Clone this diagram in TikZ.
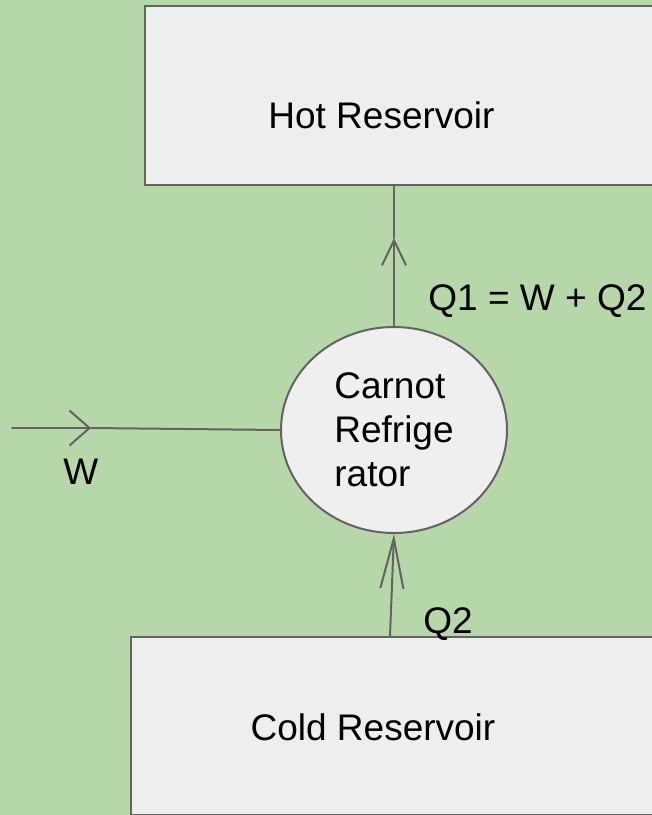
\documentclass[tikz,border=0pt]{standalone}
\usepackage{fontspec}
\setmainfont{Liberation Sans}
\usetikzlibrary{arrows.meta,shapes.geometric}
\definecolor{BackClr}{HTML}{B6D7A8}
\definecolor{BoxClr}{HTML}{EEEEEE}
\definecolor{LineClr}{HTML}{636363}

\begin{document}
\begin{tikzpicture}[x=.5pt,y=-.5pt,
  box/.style={draw=LineClr,fill=BoxClr,line width=1pt,inner sep=0pt},
  flow/.style={draw=LineClr,line width=1pt,line cap=round},
  txt/.style={font=\fontsize{18.5}{22}\selectfont,inner sep=0pt}]
\path[use as bounding box,fill=BackClr] (0,0) rectangle (652,815);
\clip (0,0) rectangle (652,815);

\node[box,anchor=north west,minimum width=268pt,minimum height=89.5pt] (hot) at (143.5,5) {};
\node[box,anchor=north west,minimum width=275pt,minimum height=89pt] (cold) at (130,636) {};
\node[txt,anchor=base] (hotlbl) at (381.5,128) {Hot Reservoir};
\node[txt,anchor=base] (coldlbl) at (373,740) {Cold Reservoir};

\node[ellipse,draw=LineClr,fill=BoxClr!95!white,line width=1pt,inner sep=0pt,
  minimum width=113pt,minimum height=103pt,txt,align=left] (fridge) at (394,430)
  {Carnot\\Refrige\\rator};

\coordinate (wstart) at (12,428);
\coordinate (wtip) at (91,428);
\coordinate (q1tip) at (394,238);
\coordinate (q2foot) at (390,636);

\draw[flow,-{Straight Barb[length=10pt,width=17.5pt]}] (wstart) -- (wtip);
\draw[flow] (wtip) -- (fridge.west);
\draw[flow,-{Straight Barb[length=12.5pt,width=12pt]}] (fridge.north) -- (q1tip);
\draw[flow] (q1tip) -- (fridge.north |- hot.south);
\draw[flow,-{Straight Barb[length=25pt,width=11.5pt]}] (q2foot) -- (fridge.south);

\node[txt,anchor=base west] (wlbl) at (63,484) {W};
\node[txt,anchor=base west] (q1lbl) at (428,310) {Q1 = W + Q2};
\node[txt,anchor=base west] (q2lbl) at (423,633) {Q2};

\end{tikzpicture}
\end{document}
